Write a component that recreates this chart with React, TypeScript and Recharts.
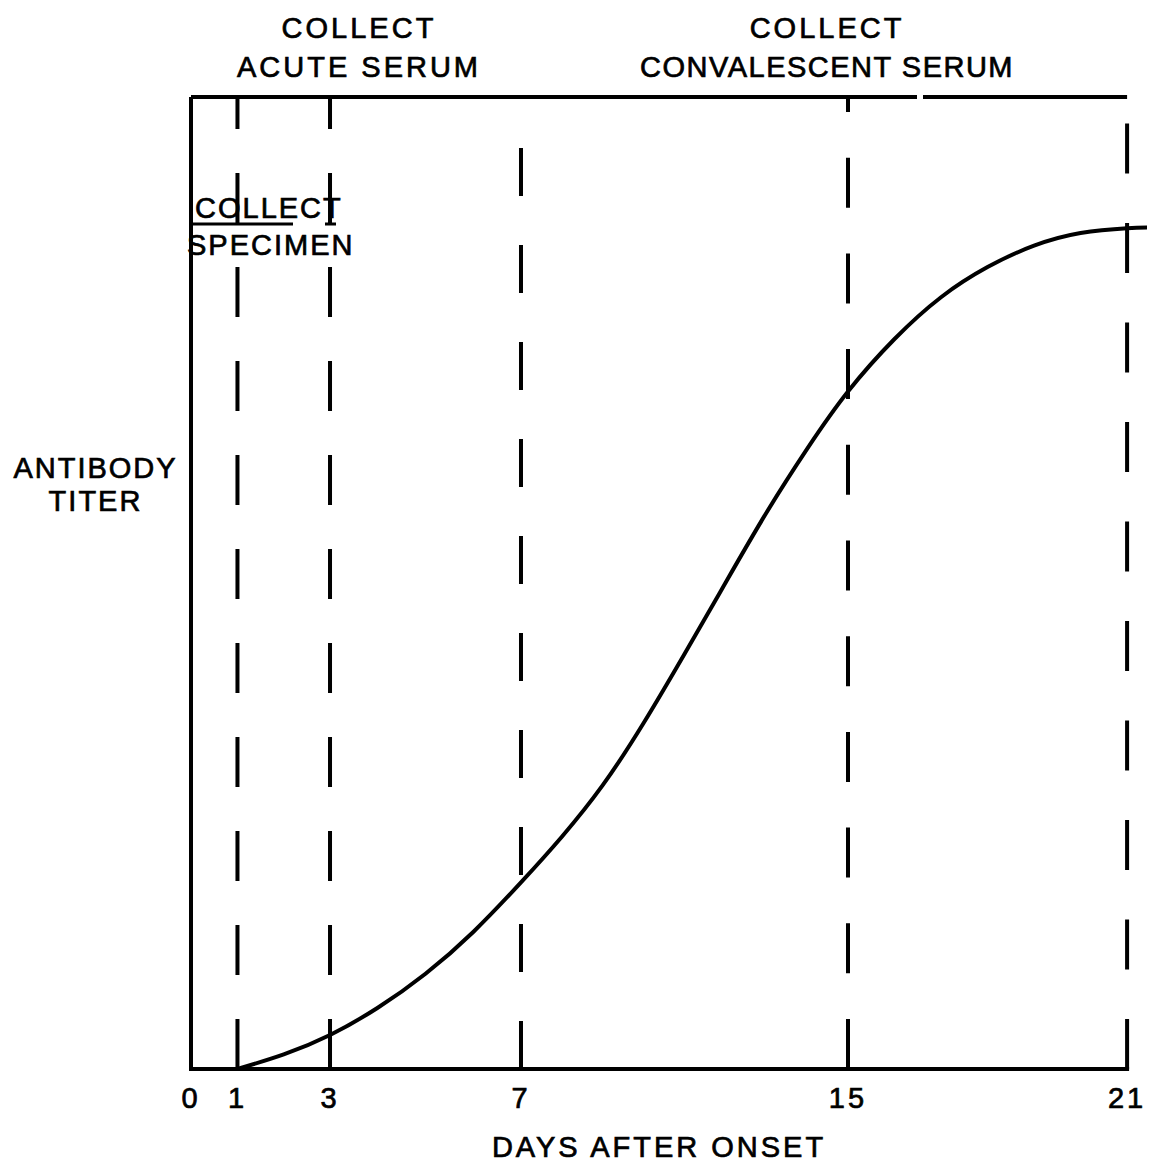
import React from "react";
import {
  LineChart,
  Line,
  XAxis,
  YAxis,
  ReferenceLine,
  ReferenceArea,
} from "recharts";

// curve (titer as % of plot height)
const days = [1, 2, 3, 4, 5, 6, 7, 8, 9, 10, 11, 12, 13, 14, 15, 16, 17, 18, 19, 20, 21, 21.6];
const titer = [0, 1.5, 3.5, 6.3, 9.8, 14.1, 19.2, 23.9, 29.2, 35.6, 42.7, 50.0, 57.2, 63.8, 69.7, 75.1, 79.4, 82.5, 84.7, 86.0, 86.5, 86.6];

const dayTicks = [0, 1, 3, 7, 15, 21];
const markerDays = [1, 3, 7, 15, 21];

const acuteText = ["COLLECT", "ACUTE SERUM"];
const convalescentText = ["COLLECT", "CONVALESCENT SERUM"];
const specimenText = ["COLLECT", "SPECIMEN"];
const yLabelText = ["ANTIBODY", "TITER"];
const xLabelText = "DAYS AFTER ONSET";

const data = days.map((d, i) => ({ day: d, titer: titer[i] }));

// the drawn axis is not evenly spaced, so days are mapped piecewise
const AXIS_KNOTS = [0, 1, 3, 7, 15, 21];
const AXIS_FRAC = [0, 0.0482, 0.1442, 0.3423, 0.6815, 0.971];

function makeDayScale(): any {
  let dom: number[] = [0, 21.6];
  let rng: number[] = [0, 1];
  const frac = (v: number) => {
    let i = 0;
    while (i < AXIS_KNOTS.length - 2 && v > AXIS_KNOTS[i + 1]) i++;
    const t = (v - AXIS_KNOTS[i]) / (AXIS_KNOTS[i + 1] - AXIS_KNOTS[i]);
    return AXIS_FRAC[i] + t * (AXIS_FRAC[i + 1] - AXIS_FRAC[i]);
  };
  const scale: any = (v: number) => {
    const f0 = frac(Number(dom[0]));
    const f1 = frac(Number(dom[dom.length - 1]));
    return rng[0] + ((frac(Number(v)) - f0) / (f1 - f0)) * (rng[1] - rng[0]);
  };
  scale.domain = (d?: number[]) => {
    if (d === undefined) return dom.slice();
    dom = d.slice();
    return scale;
  };
  scale.range = (r?: number[]) => {
    if (r === undefined) return rng.slice();
    rng = r.slice();
    return scale;
  };
  scale.copy = () => makeDayScale().domain(dom).range(rng);
  scale.ticks = () => dayTicks;
  return scale;
}

const dayScale = makeDayScale();

// hand-drawn dashes differ a little from line to line
const DASHES: Record<number, string> = {
  1: "50 44",
  3: "50 44",
  7: "48 49",
  15: "50 45.7",
  21: "50 49.5",
};

const font = {
  fontFamily: "'Liberation Sans', Arial, sans-serif",
  fontSize: 29,
  fill: "#000",
  stroke: "#000",
  strokeWidth: 0.7,
  letterSpacing: 3,
};

function DayTick(props: any) {
  const { x, y, payload } = props;
  return (
    <text x={x} y={y + 39} textAnchor="middle" style={font}>
      {payload.value}
    </text>
  );
}

const headerLabel = (lines: string[], spacing: number[]) => (props: any) => {
  const vb = props.viewBox;
  const cx = vb.x + vb.width / 2 + 3;
  return (
    <g>
      <text x={cx} y={vb.y - 59} textAnchor="middle" style={{ ...font, letterSpacing: spacing[0] }}>{lines[0]}</text>
      <text x={cx} y={vb.y - 20} textAnchor="middle" style={{ ...font, letterSpacing: spacing[1] }}>{lines[1]}</text>
    </g>
  );
};

// text with a white halo, so it breaks the lines it sits on
function Knockout({ x, y, children }: any) {
  const st = { ...font, letterSpacing: 2 };
  return (
    <g>
      <text x={x} y={y} style={{ ...st, fill: "#fff", stroke: "#fff", strokeWidth: 8 }}>{children}</text>
      <text x={x} y={y} style={st}>{children}</text>
    </g>
  );
}

const specimenLabel = (props: any) => {
  const vb = props.viewBox;
  return (
    <g>
      <Knockout x={vb.x + 4} y={vb.y + 121}>{specimenText[0]}</Knockout>
      <path
        d={`M${vb.x} ${vb.y + 127}H${vb.x + 102}M${vb.x + 134} ${vb.y + 127}H${vb.x + 145}`}
        stroke="#000"
        strokeWidth={3}
      />
      <Knockout x={vb.x - 4} y={vb.y + 158}>{specimenText[1]}</Knockout>
    </g>
  );
};

const xCaption = (props: any) => {
  const vb = props.viewBox;
  return (
    <text x={vb.x + vb.width / 2} y={vb.y + vb.height + 88} textAnchor="middle" style={font}>
      {xLabelText}
    </text>
  );
};

const yCaption = (props: any) => {
  const vb = props.viewBox;
  const cx = vb.x + vb.width / 2 - 4;
  return (
    <g>
      <text x={cx} y={vb.y + 381} textAnchor="middle" style={{ ...font, letterSpacing: 2 }}>{yLabelText[0]}</text>
      <text x={cx} y={vb.y + 414} textAnchor="middle" style={{ ...font, letterSpacing: 2 }}>{yLabelText[1]}</text>
    </g>
  );
};

export default function App() {
  return (
    <div style={{ width: 1147, height: 1157, background: "#fff" }}>
      <LineChart
        width={1147}
        height={1157}
        data={data}
        margin={{ top: 89, right: 0, left: 0, bottom: 0 }}
      >
        <XAxis
          dataKey="day"
          type="number"
          scale={dayScale}
          domain={[0, 21.6]}
          ticks={dayTicks}
          interval={0}
          height={96}
          axisLine={false}
          tickLine={false}
          tickSize={0}
          tickMargin={0}
          tick={<DayTick />}
        />
        <YAxis
          type="number"
          domain={[0, 100]}
          width={183}
          tick={false}
          tickLine={false}
          axisLine={{ stroke: "#000", strokeWidth: 4 }}
          label={yCaption}
        />
        <ReferenceArea x1={0} x2={7} fillOpacity={0} strokeOpacity={0} label={headerLabel(acuteText, [3, 3])} />
        <ReferenceArea x1={7} x2={21} fillOpacity={0} strokeOpacity={0} label={headerLabel(convalescentText, [3, 1.5])} />
        <ReferenceArea x1={0} x2={21} fillOpacity={0} strokeOpacity={0} label={xCaption} />
        <ReferenceLine
          segment={[{ x: 0, y: 100 }, { x: 21, y: 100 }]}
          stroke="#000"
          strokeWidth={4}
          strokeDasharray="726 6 400"
        />
        <ReferenceLine
          segment={[{ x: 0, y: 0 }, { x: 21, y: 0 }]}
          stroke="#000"
          strokeWidth={4}
          strokeLinecap="square"
        />
        {markerDays.map((d) => (
          <ReferenceLine
            key={d}
            x={d}
            stroke="#000"
            strokeWidth={4}
            strokeDasharray={DASHES[d]}
          />
        ))}
        <ReferenceArea x1={0} x2={3} fillOpacity={0} strokeOpacity={0} label={specimenLabel} />
        <Line
          type="natural"
          dataKey="titer"
          stroke="#000"
          strokeWidth={4}
          dot={false}
          isAnimationActive={false}
        />
      </LineChart>
    </div>
  );
}
